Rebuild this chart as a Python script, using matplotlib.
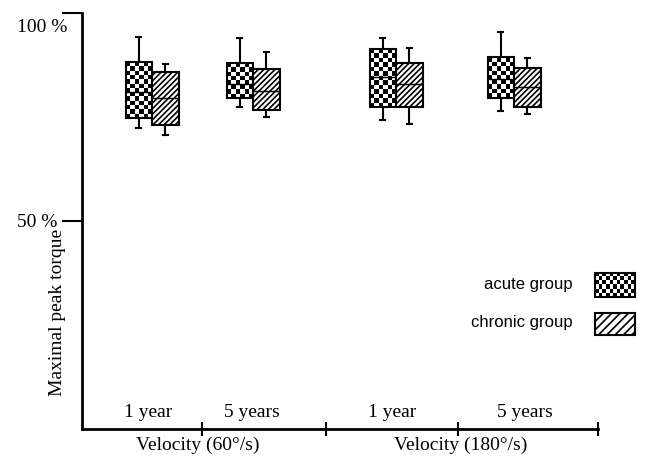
import numpy as np
import matplotlib.pyplot as plt
from matplotlib.patches import Rectangle

plt.rcParams['hatch.linewidth'] = 1.2

period_labels = ["1 year", "5 years", "1 year", "5 years"]
velocity_labels = ["Velocity (60°/s)", "Velocity (180°/s)"]
legend_labels = ["acute group", "chronic group"]

# acute group (checkered boxes)
acute_lo = [72.4, 77.4, 74.3, 76.4]
acute_q1 = [74.8, 79.6, 77.4, 79.6]
acute_med = [81.0, 83.0, 84.6, 84.1]
acute_q3 = [88.2, 88.0, 91.3, 89.4]
acute_hi = [94.2, 94.0, 94.0, 95.4]

# chronic group (hatched boxes)
chronic_lo = [70.7, 75.0, 73.3, 75.7]
chronic_q1 = [73.1, 76.7, 77.4, 77.4]
chronic_med = [79.6, 81.3, 82.9, 82.2]
chronic_q3 = [85.8, 86.5, 88.0, 86.8]
chronic_hi = [87.7, 90.6, 91.6, 89.2]


def make_stats(lo, q1, med, q3, hi):
    return [dict(whislo=a, q1=b, med=c, q3=d, whishi=e, fliers=[])
            for a, b, c, d, e in zip(lo, q1, med, q3, hi)]


def checker(nx, ny):
    return np.indices((ny, nx)).sum(axis=0) % 2


W, H = 645, 461
fig = plt.figure(figsize=(W / 100, H / 100), dpi=100)
ax = fig.add_axes([82 / W, 32 / H, 516 / W, 416 / H])

# layout in x units (1 unit ~ 1 px)
centers = np.array([70, 171, 314, 432])
bw = 26.5
acute_pos = centers - bw / 2
chronic_pos = centers + bw / 2
px_per_unit_y = 416 / 100

common = dict(widths=bw, patch_artist=True, showfliers=False, capwidths=5,
              manage_ticks=False,
              whiskerprops=dict(color='black', lw=1.5),
              capprops=dict(color='black', lw=1.5),
              medianprops=dict(color='black', lw=1))

ax.bxp(make_stats(acute_lo, acute_q1, acute_med, acute_q3, acute_hi),
       positions=acute_pos,
       boxprops=dict(facecolor='none', edgecolor='black', lw=1.5), **common)
ax.bxp(make_stats(chronic_lo, chronic_q1, chronic_med, chronic_q3, chronic_hi),
       positions=chronic_pos,
       boxprops=dict(facecolor='white', edgecolor='black', lw=1.5,
                     hatch='//////'),
       **common)

# checker fill for the acute boxes
for p, q1, q3 in zip(acute_pos, acute_q1, acute_q3):
    ny = max(1, int(round((q3 - q1) * px_per_unit_y / 4.4)))
    ax.imshow(checker(6, ny), cmap='gray', interpolation='nearest',
              extent=(p - bw / 2, p + bw / 2, q1, q3), aspect='auto', zorder=1)

# legend swatches
im = ax.imshow(checker(11, 6), cmap='gray', interpolation='nearest',
               extent=(513, 553, 31.7, 37.5), aspect='auto', zorder=1)
im.set_clip_on(False)
ax.add_patch(Rectangle((513, 31.7), 40, 5.8, facecolor='none', edgecolor='black',
                       lw=1.5, clip_on=False, zorder=2))
ax.add_patch(Rectangle((513, 22.6), 40, 5.3, facecolor='white', edgecolor='black',
                       lw=1.5, hatch='////', clip_on=False, zorder=2))
fig.text(573 / W, 1 - 285 / H, legend_labels[0], ha='right', va='center',
         family='Liberation Sans', size=12)
fig.text(573 / W, 1 - 323 / H, legend_labels[1], ha='right', va='center',
         family='Liberation Sans', size=12)

ax.set_xlim(0, 516)
ax.set_ylim(0, 100)
ax.set_aspect('auto')

for s in ['top', 'right']:
    ax.spines[s].set_visible(False)
for s in ['left', 'bottom']:
    ax.spines[s].set_linewidth(2)

ax.set_yticks([50, 100])
ax.set_yticklabels([])
ax.tick_params(axis='y', direction='out', length=14.5, width=1.5)
ax.set_xticks([120, 244, 376, 516])
ax.set_xticklabels([])
ax.tick_params(axis='x', direction='inout', length=10, width=1.5)

serif = dict(family='Liberation Serif', size=14)
fig.text(17 / W, 1 - 27 / H, "100 %", ha='left', va='center', **serif)
fig.text(17 / W, 1 - 222 / H, "50 %", ha='left', va='center', **serif)
fig.text(58 / W, 1 - 312 / H, "Maximal peak torque", rotation=90,
         ha='center', va='center', **serif)

label_x = [66, 170, 310, 443]
for x, lab in zip(label_x, period_labels):
    fig.text((82 + x) / W, 1 - 412 / H, lab, ha='center', va='center', **serif)
for x, lab in zip([198, 461], velocity_labels):
    fig.text(x / W, 1 - 445 / H, lab, ha='center', va='center', **serif)

fig.savefig("out.png", dpi=100)
